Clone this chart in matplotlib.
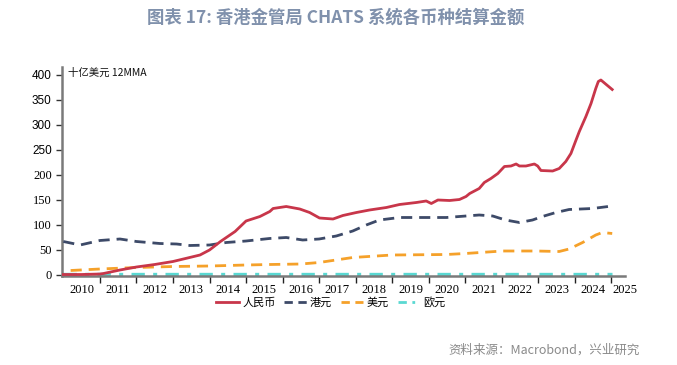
import matplotlib
matplotlib.use("Agg")
import matplotlib.pyplot as plt
from matplotlib.lines import Line2D

plt.rcParams['font.family'] = ['Noto Sans CJK SC', 'DejaVu Sans']

# ---- data ----
rmb_x = [2010.0, 2010.5, 2011.0, 2011.1, 2011.55, 2012.0, 2012.5, 2013.0, 2013.4, 2013.74, 2014.0,
         2014.3, 2014.7, 2015.0, 2015.38, 2015.65, 2015.74, 2016.1, 2016.47, 2016.74, 2017.01,
         2017.38, 2017.65, 2018.02, 2018.38, 2018.84, 2019.2, 2019.66, 2019.93, 2020.07, 2020.25,
         2020.57, 2020.84, 2021.02, 2021.12, 2021.38, 2021.52, 2021.7, 2021.89, 2022.07, 2022.25,
         2022.39, 2022.48, 2022.66, 2022.89, 2022.98, 2023.07, 2023.39, 2023.57, 2023.75, 2023.89,
         2024.03, 2024.12, 2024.3, 2024.44, 2024.57, 2024.64, 2024.71, 2024.84, 2025.02]
rmb_y = [0, 0, 1, 2, 9, 15, 20, 26, 33, 39, 49,
         66, 86, 107, 116, 126, 132, 136, 131, 124, 113,
         111, 118, 124, 129, 134, 140, 144, 147, 142, 149,
         148, 150, 156, 162, 172, 184, 192, 202, 216, 217,
         221, 217, 217, 221, 217, 208, 207, 212, 226, 242,
         269, 286, 316, 342, 372, 386, 389, 381, 370]

hkd_x = [2010.0, 2010.46, 2011.0, 2011.55, 2012.0, 2012.64, 2013.1, 2013.46, 2014.0, 2014.46,
         2015.0, 2015.64, 2016.1, 2016.55, 2017.0, 2017.47, 2017.92, 2018.29, 2018.65, 2019.2,
         2019.93, 2020.48, 2021.02, 2021.38, 2021.75, 2022.1, 2022.48, 2022.84, 2023.11, 2023.48,
         2023.84, 2024.48, 2025.02]
hkd_y = [66, 59, 68, 71, 66, 62, 61, 58, 59, 64,
         67, 72, 74, 69, 71, 77, 87, 99, 109, 114,
         114, 114, 117, 119, 117, 109, 104, 109, 116, 124,
         130, 132, 137]

usd_x = [2010.2, 2011.0, 2012.0, 2013.0, 2014.0, 2015.0, 2015.65, 2016.5, 2017.0, 2017.92,
         2019.0, 2020.48, 2021.0, 2022.02, 2022.93, 2023.57, 2023.84, 2024.21, 2024.57, 2024.75,
         2025.02]
usd_y = [8, 11, 14, 16, 17, 19, 20, 21, 24, 34,
         39, 40, 42, 47, 47, 46, 51, 64, 79, 84,
         82]

eur_x = [2010.0, 2012.0, 2014.0, 2016.0, 2018.0, 2020.0, 2022.0, 2024.0, 2025.02]
eur_y = [2, 2, 2, 2, 2, 2, 2, 2, 2]

year_labels = [str(y) for y in range(2010, 2026)]
y_ticks = [0, 50, 100, 150, 200, 250, 300, 350, 400]

series_names = ['人民币', '港元', '美元', '欧元']
colors = ['#C8364A', '#3D4A68', '#F5A12A', '#5AD8D2']

# ---- figure ----
fig = plt.figure(figsize=(6.77, 3.65), dpi=100)
ax = fig.add_axes([61.5 / 677, 1 - 276 / 365, (625 - 61.5) / 677, (276 - 67) / 365])

ax.plot(eur_x, eur_y, color=colors[3], lw=2.4, dashes=(4, 2.5, 1.2, 2.5), zorder=2)
ax.plot(usd_x, usd_y, color=colors[2], lw=2.0, dashes=(4, 2.5), zorder=3)
ax.plot(hkd_x, hkd_y, color=colors[1], lw=2.0, dashes=(4, 2.5), zorder=4)
ax.plot(rmb_x, rmb_y, color=colors[0], lw=2.0, zorder=5)

ax.set_xlim(2009.95, 2025.37)
ax.set_ylim(-3, 415)

# spines
for s in ['top', 'right']:
    ax.spines[s].set_visible(False)
ax.spines['left'].set_color('#7a7a7a')
ax.spines['left'].set_linewidth(1.8)
ax.spines['bottom'].set_color('#7a7a7a')
ax.spines['bottom'].set_linewidth(1.8)

# y ticks
ax.set_yticks(y_ticks)
ax.set_yticklabels([str(v) for v in y_ticks])
ax.tick_params(axis='y', direction='out', length=4, width=1, color='#333333', pad=3, labelsize=8.5)
for lab, v in zip(ax.get_yticklabels(), y_ticks):
    lab.set_family('Liberation Serif' if v <= 200 else 'Liberation Sans')
    lab.set_fontsize(9 if v <= 200 else 8.5)

# x ticks: major at year boundaries (no label), minor at mid-year (labels)
ax.set_xticks(list(range(2011, 2026)))
ax.set_xticklabels([])
ax.tick_params(axis='x', which='major', direction='out', length=5, width=1, color='#222222')
label_pos = [y + 0.5 for y in range(2010, 2025)] + [2025.37]
ax.set_xticks(label_pos, minor=True)
ax.set_xticklabels(year_labels, minor=True, family='Liberation Serif', fontsize=9)
ax.tick_params(axis='x', which='minor', length=0, pad=6)

# unit label
ax.text(68 / 677, 1 - 73 / 365, '十亿美元 12MMA', transform=fig.transFigure,
        fontsize=7.5, va='center', ha='left', color='#111111')

# title
fig.text(336 / 677, 1 - 18 / 365, '图表 17: 香港金管局 CHATS 系统各币种结算金额',
         ha='center', va='center', fontsize=12.5, fontweight='bold', color='#8091AC')

# legend
handles = [
    Line2D([], [], color=colors[0], lw=2.0),
    Line2D([], [], color=colors[1], lw=2.0, dashes=(3, 2)),
    Line2D([], [], color=colors[2], lw=2.0, dashes=(3, 2)),
    Line2D([], [], color=colors[3], lw=2.0, dashes=(3, 2, 1, 2)),
]
fig.legend(handles, series_names, loc='center', bbox_to_anchor=(331 / 677, 1 - 302 / 365),
           ncol=4, frameon=False, fontsize=8, handlelength=2.0, handletextpad=0.3,
           columnspacing=0.8)

# source
fig.text(640 / 677, 1 - 350 / 365, '资料来源：Macrobond，兴业研究', ha='right', va='center',
         fontsize=9, color='#8a8a8a')

fig.savefig('out.png', dpi=100)
